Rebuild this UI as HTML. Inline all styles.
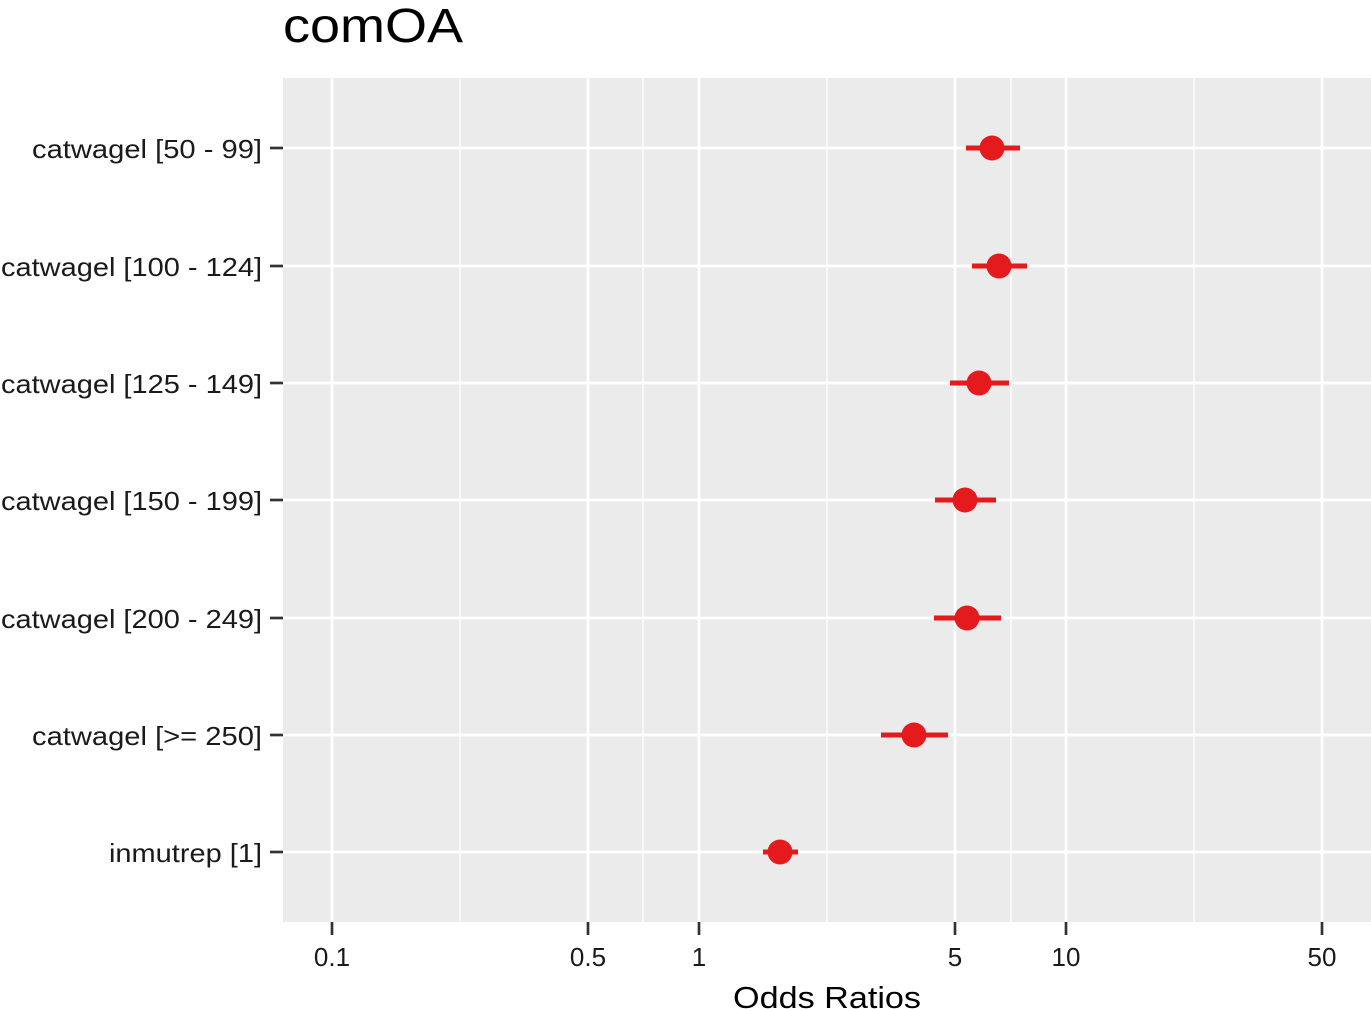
<!DOCTYPE html>
<html><head><meta charset="utf-8"><style>
html,body{margin:0;padding:0;background:#fff;}
svg{display:block;}
text{font-family:"Liberation Sans",Arial,sans-serif;}
</style></head><body>
<svg width="1371" height="1009" viewBox="0 0 1371 1009" xmlns="http://www.w3.org/2000/svg">
<rect x="0" y="0" width="1371" height="1009" fill="#fff"/>
<text x="283" y="42" font-size="48" fill="#000" textLength="180" lengthAdjust="spacingAndGlyphs">comOA</text>
<rect x="283" y="78" width="1088" height="844" fill="#ebebeb"/>
<g stroke="#fff" stroke-width="1.3">
<line x1="460" y1="78" x2="460" y2="922"/><line x1="643" y1="78" x2="643" y2="922"/>
<line x1="827" y1="78" x2="827" y2="922"/><line x1="1011" y1="78" x2="1011" y2="922"/>
<line x1="1194" y1="78" x2="1194" y2="922"/>
</g>
<g stroke="#fff" stroke-width="2.7">
<line x1="332" y1="78" x2="332" y2="922"/><line x1="588" y1="78" x2="588" y2="922"/>
<line x1="699" y1="78" x2="699" y2="922"/><line x1="955" y1="78" x2="955" y2="922"/>
<line x1="1066" y1="78" x2="1066" y2="922"/><line x1="1322" y1="78" x2="1322" y2="922"/>
<line x1="283" y1="148" x2="1371" y2="148"/><line x1="283" y1="266" x2="1371" y2="266"/>
<line x1="283" y1="383" x2="1371" y2="383"/><line x1="283" y1="500" x2="1371" y2="500"/>
<line x1="283" y1="618" x2="1371" y2="618"/><line x1="283" y1="735" x2="1371" y2="735"/>
<line x1="283" y1="852" x2="1371" y2="852"/>
</g>
<g stroke="#e41a1c" stroke-width="5">
<line x1="966" y1="148" x2="1020" y2="148"/><line x1="972" y1="266" x2="1027" y2="266"/>
<line x1="950" y1="383" x2="1009" y2="383"/><line x1="935" y1="500" x2="996" y2="500"/>
<line x1="934" y1="618" x2="1001" y2="618"/><line x1="881" y1="735" x2="948" y2="735"/>
<line x1="763" y1="852" x2="798" y2="852"/>
</g>
<g fill="#e41a1c">
<circle cx="992" cy="148" r="12.5"/><circle cx="999" cy="266" r="12.5"/>
<circle cx="979" cy="383" r="12.5"/><circle cx="965" cy="500" r="12.5"/>
<circle cx="967" cy="618" r="12.5"/><circle cx="914" cy="735" r="12.5"/>
<circle cx="780" cy="852" r="12.5"/>
</g>
<g stroke="#333" stroke-width="2.7">
<line x1="270" y1="148" x2="283" y2="148"/><line x1="270" y1="266" x2="283" y2="266"/>
<line x1="270" y1="383" x2="283" y2="383"/><line x1="270" y1="500" x2="283" y2="500"/>
<line x1="270" y1="618" x2="283" y2="618"/><line x1="270" y1="735" x2="283" y2="735"/>
<line x1="270" y1="852" x2="283" y2="852"/>
<line x1="332" y1="922" x2="332" y2="935"/><line x1="588" y1="922" x2="588" y2="935"/>
<line x1="699" y1="922" x2="699" y2="935"/><line x1="955" y1="922" x2="955" y2="935"/>
<line x1="1066" y1="922" x2="1066" y2="935"/><line x1="1322" y1="922" x2="1322" y2="935"/>
</g>
<g font-size="26" fill="#1a1a1a" lengthAdjust="spacingAndGlyphs">
<text x="32" y="158" textLength="230" lengthAdjust="spacingAndGlyphs">catwagel [50 - 99]</text>
<text x="1" y="276" textLength="261" lengthAdjust="spacingAndGlyphs">catwagel [100 - 124]</text>
<text x="1" y="393" textLength="261" lengthAdjust="spacingAndGlyphs">catwagel [125 - 149]</text>
<text x="1" y="510" textLength="261" lengthAdjust="spacingAndGlyphs">catwagel [150 - 199]</text>
<text x="1" y="628" textLength="261" lengthAdjust="spacingAndGlyphs">catwagel [200 - 249]</text>
<text x="32" y="745" textLength="230" lengthAdjust="spacingAndGlyphs">catwagel [&gt;= 250]</text>
<text x="109" y="862" textLength="153" lengthAdjust="spacingAndGlyphs">inmutrep [1]</text>
</g>
<g font-size="26" fill="#1a1a1a" text-anchor="middle">
<text x="332" y="966">0.1</text><text x="588" y="966">0.5</text>
<text x="699" y="966">1</text><text x="955" y="966">5</text>
<text x="1066" y="966">10</text><text x="1322" y="966">50</text>
</g>
<text x="733" y="1008" font-size="31" fill="#000" textLength="188" lengthAdjust="spacingAndGlyphs">Odds Ratios</text>
</svg>
</body></html>
